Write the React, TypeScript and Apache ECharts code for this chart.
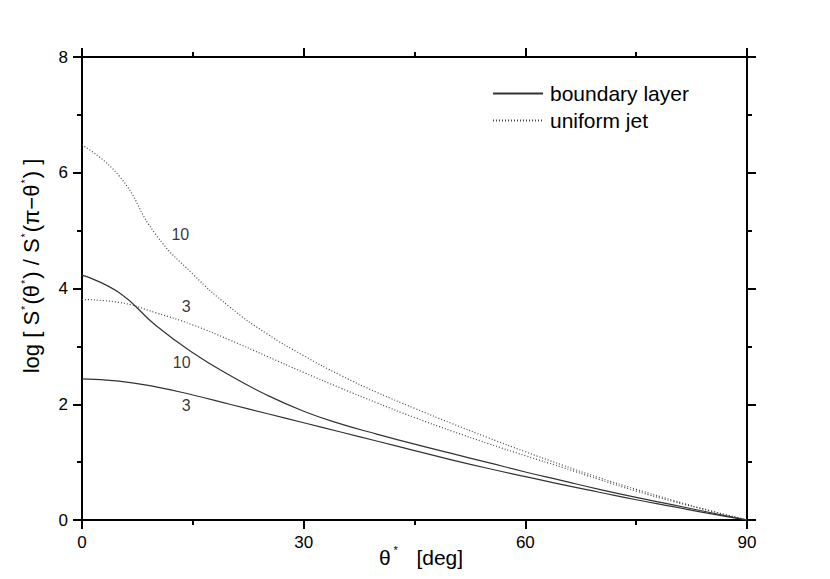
import { useEffect, useRef } from 'react';
import * as echarts from 'echarts';

// theta* [deg]
const theta = [0, 5, 10, 15, 20, 25, 30, 35, 40, 45, 50, 55, 60, 65, 70, 75, 80, 85, 90];
// boundary layer curves
const boundary10 = [4.23, 3.93, 3.36, 2.89, 2.5, 2.16, 1.88, 1.66, 1.48, 1.31, 1.15, 0.99, 0.83, 0.68, 0.53, 0.39, 0.26, 0.13, 0];
const boundary3 = [2.44, 2.4, 2.3, 2.16, 2.0, 1.84, 1.68, 1.52, 1.36, 1.2, 1.04, 0.89, 0.75, 0.61, 0.48, 0.35, 0.23, 0.11, 0];
// uniform jet curves
const jet10 = [6.48, 5.95, 4.93, 4.25, 3.68, 3.22, 2.84, 2.5, 2.2, 1.93, 1.67, 1.42, 1.18, 0.95, 0.73, 0.53, 0.34, 0.16, 0];
const jet3 = [3.81, 3.76, 3.58, 3.37, 3.11, 2.83, 2.55, 2.28, 2.02, 1.77, 1.54, 1.32, 1.11, 0.91, 0.7, 0.5, 0.32, 0.16, 0];

// curve annotations
const annotationText = ['10', '3', '10', '3'];
const annotationTheta = [13.3, 14.1, 13.5, 14.1];
const annotationValue = [4.94, 3.69, 2.72, 1.97];

const xTicks = { min: 0, max: 90, interval: 30 };
const yTicks = { min: 0, max: 8, interval: 2 };

const FONT = '"Liberation Sans", Arial, Helvetica, sans-serif';
const INK = '#000';
const CURVE = '#333';
const DOT = '#444';

const pairs = (ys: number[]) => ys.map((y, i) => [theta[i], y]);

function axisCommon(showLabel: boolean) {
  return {
    type: 'value' as const,
    axisLine: { show: true, onZero: false, lineStyle: { color: INK, width: 2 } },
    axisTick: { show: true, length: 9, lineStyle: { color: INK, width: 2 } },
    minorTick: { show: true, splitNumber: 2, length: 5, lineStyle: { color: INK, width: 2 } },
    splitLine: { show: false },
    axisLabel: {
      show: showLabel,
      color: INK,
      fontSize: 17,
      fontFamily: FONT,
      margin: 14,
    },
  };
}

function lineSeries(name: string, ys: number[], dotted: boolean) {
  const color = dotted ? DOT : CURVE;
  return {
    name,
    type: 'line',
    data: pairs(ys),
    smooth: 0.5,
    symbol: 'none',
    lineStyle: dotted ? { color, width: 1.2, type: [1, 2] } : { color, width: 1.2 },
    itemStyle: { color },
  };
}

export default function App() {
  const ref = useRef<HTMLDivElement>(null);

  useEffect(() => {
    if (!ref.current) return;
    const chart = echarts.init(ref.current, undefined, { renderer: 'svg' });
    const option = {
      animation: false,
      backgroundColor: '#fff',
      grid: { left: 82, right: 83, top: 57, bottom: 59 },
      legend: {
        orient: 'vertical',
        left: 492,
        top: 83,
        padding: 0,
        itemWidth: 50,
        itemHeight: 20,
        itemGap: 6,
        itemStyle: { opacity: 0, color: 'transparent', borderWidth: 0 },
        textStyle: { color: INK, fontSize: 21, fontFamily: FONT, padding: [0, 0, 0, 2] },
        data: [{ name: 'boundary layer' }, { name: 'uniform jet' }],
      },
      xAxis: [
        { ...axisCommon(true), position: 'bottom', ...xTicks },
        { ...axisCommon(false), position: 'top', ...xTicks },
      ],
      yAxis: [
        { ...axisCommon(true), position: 'left', ...yTicks },
        { ...axisCommon(false), position: 'right', ...yTicks },
      ],
      graphic: [
        {
          type: 'text',
          x: 31,
          y: 266,
          rotation: Math.PI / 2,
          style: {
            text: 'log [ S{s|*}(θ{s|*}) / S{s|*}(π−θ{s|*}) ]',
            fill: INK,
            font: `22px ${FONT}`,
            align: 'center',
            verticalAlign: 'middle',
            rich: {
              s: { fontSize: 11, fontFamily: FONT, fill: INK, padding: [0, 1, 12, 1] },
            },
          },
        },
        {
          type: 'text',
          x: 421,
          y: 557,
          style: {
            text: 'θ{s|*}   [deg]',
            fill: INK,
            font: `21px ${FONT}`,
            align: 'center',
            verticalAlign: 'middle',
            rich: {
              s: { fontSize: 11, fontFamily: FONT, fill: INK, padding: [0, 1, 14, 3] },
            },
          },
        },
      ],
      series: [
        lineSeries('boundary layer', boundary10, false),
        lineSeries('boundary layer', boundary3, false),
        lineSeries('uniform jet', jet10, true),
        lineSeries('uniform jet', jet3, true),
        {
          name: 'annotations',
          type: 'scatter',
          symbolSize: 0,
          data: annotationTheta.map((t, i) => [t, annotationValue[i]]),
          label: {
            show: true,
            position: 'inside',
            color: INK,
            fontSize: 16,
            fontFamily: FONT,
            formatter: (p: any) => annotationText[p.dataIndex],
          },
          silent: true,
        },
      ],
    };
    chart.setOption(option as any);
    return () => chart.dispose();
  }, []);

  return (
    <div
      ref={ref}
      style={{ position: 'fixed', left: 0, top: 0, width: 830, height: 579 }}
    />
  );
}
